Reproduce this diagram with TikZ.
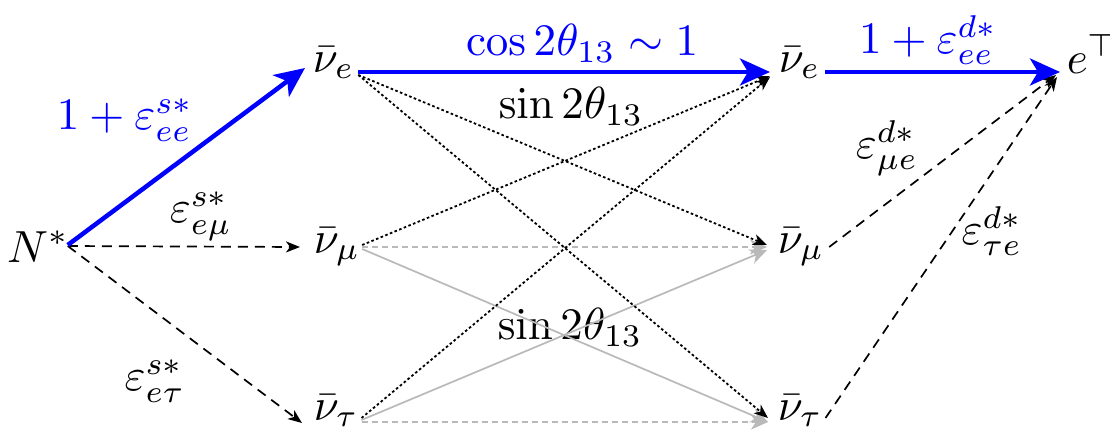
\documentclass[tikz,border=0pt]{standalone}
\usetikzlibrary{arrows.meta}
\definecolor{bl}{RGB}{0,0,255}
\begin{document}
\begin{tikzpicture}[x=1pt,y=-1pt,
  every node/.style={inner sep=0pt,scale=4.5},
  txt/.style={anchor=base},
  lbl/.style={anchor=center},
  bluearr/.style={bl,line width=4.5pt,-{Stealth[length=30pt,width=27pt,inset=8pt]}},
  dasharr/.style={black,line width=1.7pt,dash pattern=on 10pt off 7pt,-{Stealth[length=14pt,width=11pt,inset=4pt]}},
  dashline/.style={black,line width=1.7pt,dash pattern=on 10pt off 7pt,-{Stealth[length=14pt,width=11pt,inset=4pt]}},
  dotarr/.style={black,line width=1.8pt,dash pattern=on 2.6pt off 2.4pt,-{Stealth[length=14pt,width=11pt,inset=4pt]}},
  grayarr/.style={gray!55,line width=1.7pt,-{Stealth[length=17pt,width=15pt,inset=5pt]}},
  graydash/.style={gray!55,line width=1.7pt,dash pattern=on 6pt off 4pt,-{Stealth[length=17pt,width=15pt,inset=5pt]}}]
\useasboundingbox (0,0) rectangle (1110,429);
% nodes
\node[txt] (N) at (38,262) {$N^*$};
\node[txt,anchor=base west] (NeL) at (312,72) {$\bar\nu_e$};
\node[txt,anchor=base west] (NmL) at (313,253) {$\bar\nu_\mu$};
\node[txt,anchor=base west] (NtL) at (313,420) {$\bar\nu_\tau$};
\node[txt,anchor=base west] (NeR) at (778,72) {$\bar\nu_e$};
\node[txt,anchor=base west] (NmR) at (777,253) {$\bar\nu_\mu$};
\node[txt,anchor=base west] (NtR) at (777,420) {$\bar\nu_\tau$};
\node[txt,anchor=base west] (E) at (1066,73) {$e^{\top}$};
% labels
\node[lbl,text=bl] (l1) at (125,120) {$1+\varepsilon^{s*}_{ee}$};
\node[lbl] (l2) at (201,216) {$\varepsilon^{s*}_{e\mu}$};
\node[lbl] (l3) at (155,381) {$\varepsilon^{s*}_{e\tau}$};
\node[lbl,text=bl] (l4) at (582,43) {$\cos 2\theta_{13}\sim 1$};
\node[lbl] (l5) at (571,106) {$\sin 2\theta_{13}$};
\node[lbl] (l6) at (570,327) {$\sin 2\theta_{13}$};
\node[lbl,text=bl] (l7) at (928,40) {$1+\varepsilon^{d*}_{ee}$};
\node[lbl] (l8) at (887,148) {$\varepsilon^{d*}_{\mu e}$};
\node[lbl] (l9) at (992,231) {$\varepsilon^{d*}_{\tau e}$};
% gray connectors
\draw[graydash] ([xshift=1pt,yshift=6pt]NmL.base east) -- ([xshift=-10pt,yshift=6pt]NmR.base west);
\draw[grayarr] ([xshift=1pt,yshift=4pt]NmL.base east) -- ([xshift=-9pt,yshift=-2pt]NtR.base west);
\draw[grayarr] ([xshift=2pt,yshift=0pt]NtL.base east) -- ([xshift=-10pt,yshift=3pt]NmR.base west);
\draw[graydash] ([xshift=2pt,yshift=-2pt]NtL.base east) -- ([xshift=-9pt,yshift=-2pt]NtR.base west);
% dotted connectors
\draw[dotarr] ([xshift=3pt,yshift=-3pt]NeL.base east) -- ([xshift=-10pt,yshift=8pt]NmR.base west);
\draw[dotarr] ([xshift=3pt,yshift=-3pt]NeL.base east) -- ([xshift=-9pt,yshift=2pt]NtR.base west);
\draw[dotarr] ([xshift=1pt,yshift=8pt]NmL.base east) -- ([xshift=-8pt,yshift=-4pt]NeR.base west);
\draw[dotarr] ([xshift=2pt,yshift=2pt]NtL.base east) -- ([xshift=-8pt,yshift=-5pt]NeR.base west);
% dashed connectors
\draw[dasharr] ([xshift=-2pt,yshift=16pt]N.base east) -- ([xshift=-13pt,yshift=6pt]NmL.base west);
\draw[dasharr] ([xshift=-2pt,yshift=16pt]N.base east) -- ([xshift=-11pt,yshift=-3pt]NtL.base west);
\draw[dashline] ([xshift=4pt,yshift=6pt]NmR.base east) -- ([xshift=-10pt,yshift=-2pt]E.base west);
\draw[dashline] ([xshift=2pt,yshift=2pt]NtR.base east) -- ([xshift=-9pt,yshift=-4pt]E.base west);
% blue connectors
\draw[bluearr] ([xshift=-2pt,yshift=17pt]N.base east) -- ([xshift=-7pt,yshift=4pt]NeL.base west);
\draw[bluearr] ([xshift=3pt]NeL.base east) -- ([xshift=-8pt]NeR.base west);
\draw[bluearr] ([xshift=4pt]NeR.base east) -- ([xshift=-6pt,yshift=1pt]E.base west);
\end{tikzpicture}
\end{document}
